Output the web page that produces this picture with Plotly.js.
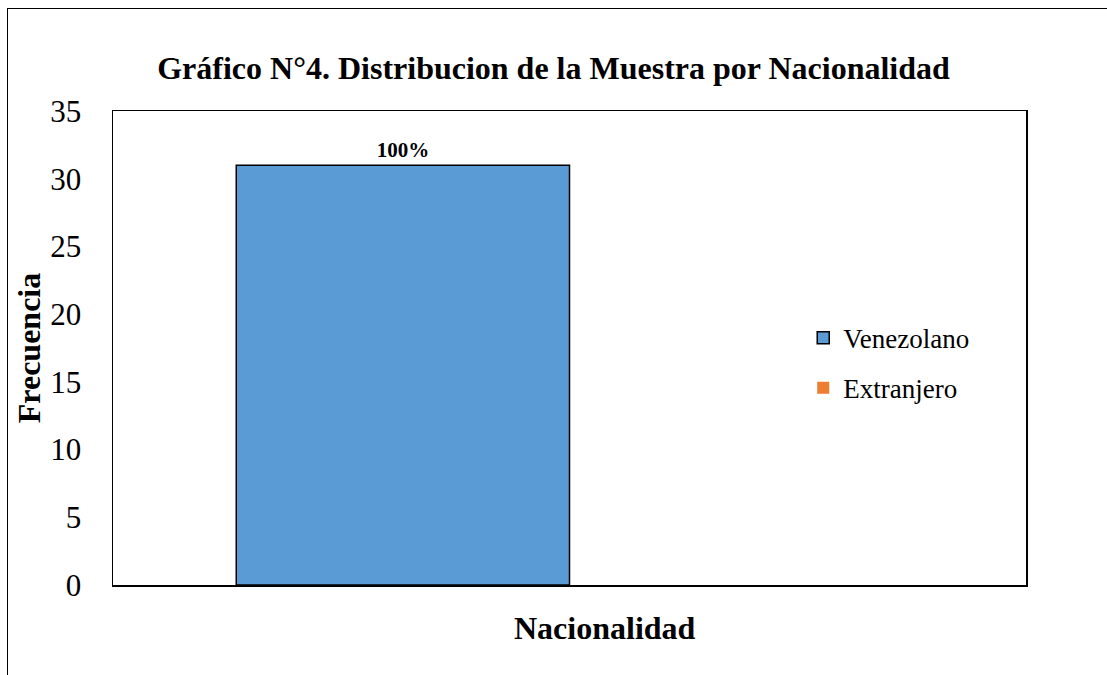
<!DOCTYPE html>
<html>
<head>
<meta charset="utf-8">
<script src="https://cdn.plot.ly/plotly-3.0.1.min.js"></script>
<style>
html,body{margin:0;padding:0;background:#fff;overflow:hidden;}
#chart{width:1107px;height:675px;}
#frame{position:absolute;left:7px;top:8px;width:1200px;height:800px;border-left:1.5px solid #000;border-top:1.5px solid #000;pointer-events:none;}
</style>
</head>
<body>
<div id="chart"></div>
<div id="frame"></div>
<script>
const categories = ["Nacionalidad"];
const seriesNames = ["Venezolano", "Extranjero"];
const venezolano = [31];
const extranjero = [0];
const venezolanoLabels = ["<b>100%</b>"];
const extranjeroLabels = [""];
const yTicks = [0, 5, 10, 15, 20, 25, 30, 35];
const xTitle = "Nacionalidad";
const yTitle = "Frecuencia";
const chartTitle = "Gráfico N°4. Distribucion de la Muestra por Nacionalidad";

const serif = "Liberation Serif, Times New Roman, serif";

const traces = [
  {
    type: "bar", name: seriesNames[0], x: categories, y: venezolano,
    legendgroup: "a",
    marker: {color: "#5B9BD5", line: {color: "#000", width: 1.5}},
    text: venezolanoLabels, textposition: "outside", cliponaxis: false,
    textfont: {family: serif, size: 21, color: "#000"}
  },
  {
    type: "bar", name: seriesNames[1], x: categories, y: extranjero,
    legendgroup: "b",
    marker: {color: "#ED7D31", line: {width: 0}},
    text: extranjeroLabels, textposition: "outside"
  }
];

const layout = {
  width: 1107, height: 675,
  margin: {l: 113, r: 81, t: 111, b: 90},
  paper_bgcolor: "#fff", plot_bgcolor: "#fff",
  barmode: "group", bargap: 0.27, bargroupgap: 0,
  font: {family: serif, color: "#000"},
  title: {
    text: "<b>" + chartTitle + "</b>",
    font: {family: serif, size: 32, color: "#000"},
    x: 0.5, xanchor: "center", y: 0.9, yanchor: "middle", yref: "container"
  },
  xaxis: {
    type: "category", showticklabels: false, ticks: "",
    showline: true, linecolor: "#000", linewidth: 1.5, mirror: true,
    showgrid: false, zeroline: false
  },
  yaxis: {
    range: [0, 35], tickvals: yTicks, ticktext: yTicks.map(String),
    showline: true, linecolor: "#000", linewidth: 1.5, mirror: true,
    showgrid: false, zeroline: false, ticks: "",
    ticklabelstandoff: 24,
    tickfont: {family: serif, size: 31, color: "#000"},
    title: {text: "<b>" + yTitle + "</b>", font: {family: serif, size: 32, color: "#000"}, standoff: 0}
  },
  annotations: [
    {
      text: "<b>" + xTitle + "</b>", xref: "paper", yref: "paper",
      x: 0.539, y: -0.09, xanchor: "center", yanchor: "middle",
      showarrow: false, font: {family: serif, size: 32, color: "#000"}
    }
  ],
  legend: {
    x: 0.756, xanchor: "left", y: 0.468, yanchor: "middle",
    traceorder: "grouped", tracegroupgap: 12,
    font: {family: serif, size: 27, color: "#000"},
    bgcolor: "rgba(0,0,0,0)"
  },
  showlegend: true
};

Plotly.newPlot("chart", traces, layout, {displayModeBar: false, staticPlot: true});
</script>
</body>
</html>
